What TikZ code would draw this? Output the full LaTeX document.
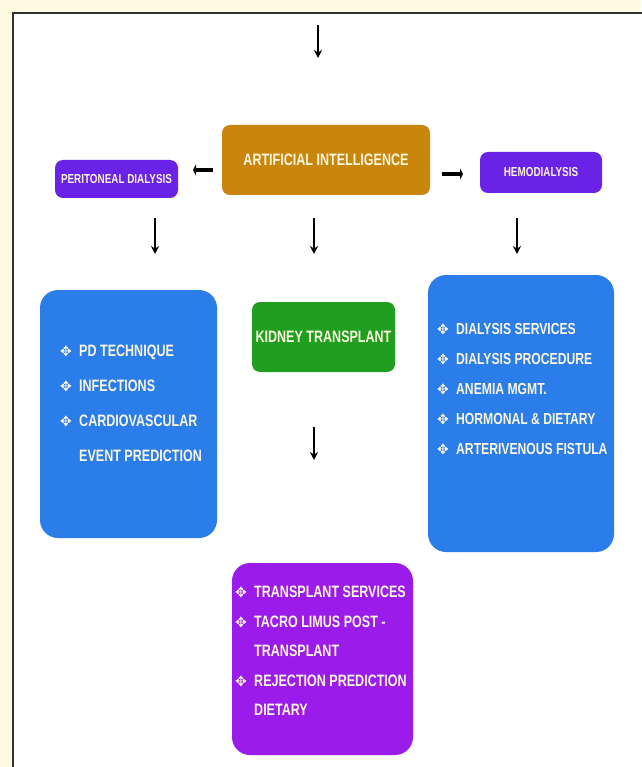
\documentclass[tikz,border=0pt]{standalone}
\usepackage{fontspec}
\usetikzlibrary{arrows.meta}
\newfontfamily\boxfont[FakeStretch=0.76]{Liberation Sans}
\newfontfamily\bulfont{DejaVu Sans}
\definecolor{paper}{HTML}{FFFBE3}
\definecolor{aiorange}{HTML}{C8860D}
\definecolor{dialpurple}{HTML}{6A22E6}
\definecolor{listblue}{HTML}{2B7DE9}
\definecolor{kidgreen}{HTML}{1F9E1F}
\definecolor{txviolet}{HTML}{9B1BEA}
\definecolor{boxtext}{HTML}{FBF6DC}
\newcommand{\itm}{\makebox[19pt][l]{\bulfont\fontsize{14}{14}\selectfont ✥}}
\newcommand{\gap}{\hspace*{19pt}}
\begin{document}
\begin{tikzpicture}[
    x=1pt, y=-1pt,
    box/.style={rounded corners=8pt, inner sep=0pt, text=boxtext,
      font=\boxfont\bfseries\fontsize{13}{13}\selectfont},
    bigbox/.style={rounded corners=18pt, inner sep=0pt},
    itemlist/.style={inner sep=0pt, anchor=north west, align=left, text=boxtext},
    downarrow/.style={line width=1.4pt, -{Stealth[length=8pt, width=8pt]}},
    sidearrow/.style={line width=3.2pt, -{Triangle[length=3pt, width=11pt]}},
  ]
  \useasboundingbox (0,0) rectangle (641,767);
  \fill[paper] (0,0) rectangle (641,767);
  \draw[fill=white, draw=black!80, line width=2pt] (13,13) rectangle (700,820);

  % Top level
  \node[box, fill=aiorange, minimum width=208pt, minimum height=70pt,
    font=\boxfont\bfseries\fontsize{16.5}{16.5}\selectfont] (ai) at (326,160) {ARTIFICIAL INTELLIGENCE};
  \node[box, fill=dialpurple, minimum width=123pt, minimum height=38pt] (pd) at (116.5,179) {PERITONEAL DIALYSIS};
  \node[box, fill=dialpurple, minimum width=122pt, minimum height=41pt] (hd) at (541,172.5) {HEMODIALYSIS};

  % Second level
  \node[bigbox, fill=listblue, minimum width=177pt, minimum height=248pt] (pdlist) at (128.5,414) {};
  \node[box, fill=kidgreen, minimum width=143pt, minimum height=70pt,
    font=\boxfont\bfseries\fontsize{16.5}{16.5}\selectfont] (kt) at (323.5,337) {KIDNEY TRANSPLANT};
  \node[bigbox, fill=listblue, minimum width=186pt, minimum height=277pt] (hdlist) at (521,413.5) {};
  \node[bigbox, fill=txviolet, minimum width=181pt, minimum height=192pt] (ktlist) at (322.5,659) {};

  % Lists
  \node[itemlist, font=\boxfont\bfseries\fontsize{16.5}{35}\selectfont] (pditems) at (60,345)
    {\itm PD TECHNIQUE\\ \itm INFECTIONS\\ \itm CARDIOVASCULAR\\ \gap EVENT PREDICTION};
  \node[itemlist, font=\boxfont\bfseries\fontsize{16}{30}\selectfont] (hditems) at (437,323)
    {\itm DIALYSIS SERVICES\\ \itm DIALYSIS PROCEDURE\\ \itm ANEMIA MGMT.\\ \itm HORMONAL \& DIETARY\\ \itm ARTERIVENOUS FISTULA};
  \node[itemlist, font=\boxfont\bfseries\fontsize{16.5}{29.5}\selectfont] (ktitems) at (235,586)
    {\itm TRANSPLANT SERVICES\\ \itm TACRO LIMUS POST -\\ \gap TRANSPLANT\\ \itm REJECTION PREDICTION\\ \gap DIETARY};

  % Arrow ends
  \coordinate (topa) at (318,25);
  \coordinate (topb) at (318,58);
  \coordinate (pda) at (155,218);
  \coordinate (pdb) at (155,254);
  \coordinate (kta) at (314,218);
  \coordinate (ktb) at (314,254);
  \coordinate (hda) at (517,218);
  \coordinate (hdb) at (517,254);
  \coordinate (tla) at (314,427);
  \coordinate (tlb) at (314,460);
  \coordinate (la) at (213,170);
  \coordinate (lb) at (193,170);
  \coordinate (ra) at (442,174);
  \coordinate (rb) at (463,174);

  \draw[downarrow] (topa) -- (topb);
  \draw[downarrow] (pda) -- (pdb);
  \draw[downarrow] (kta) -- (ktb);
  \draw[downarrow] (hda) -- (hdb);
  \draw[downarrow] (tla) -- (tlb);
  \draw[sidearrow] (la) -- (lb);
  \draw[sidearrow] (ra) -- (rb);
\end{tikzpicture}
\end{document}
